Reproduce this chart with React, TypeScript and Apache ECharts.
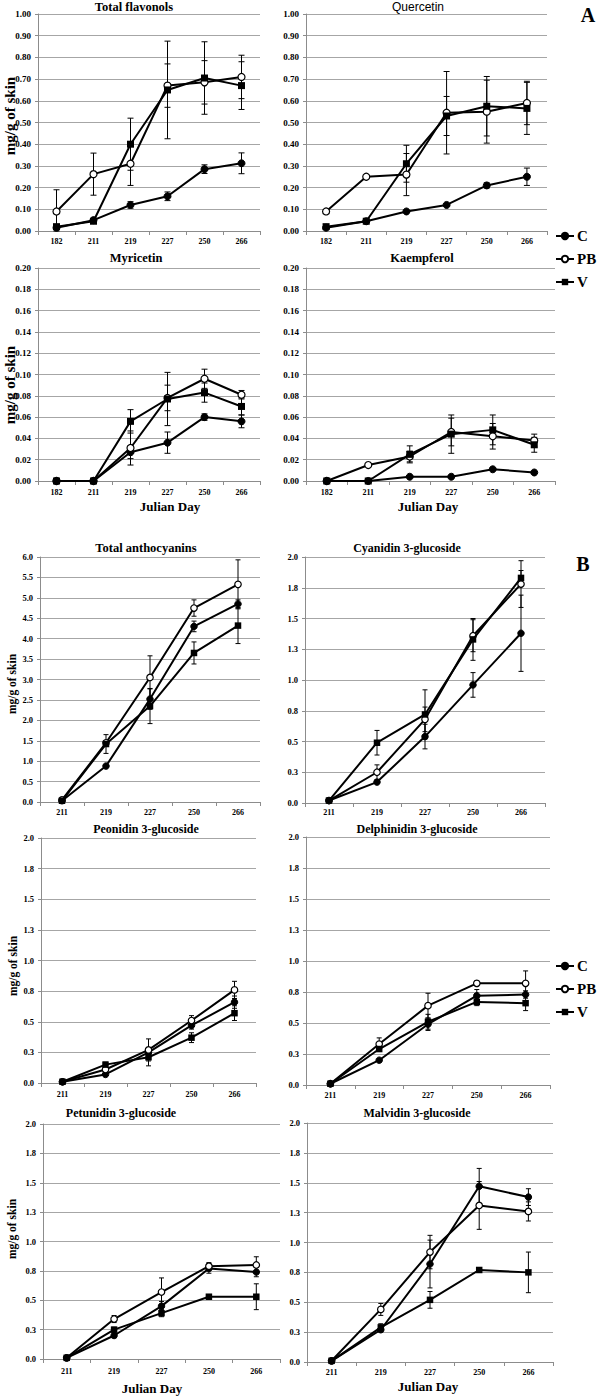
import React, { useEffect, useRef } from 'react';
import * as echarts from 'echarts';

// ---------- DATA ----------
const DAYS_A = ['182', '211', '219', '227', '250', '266'];
const DAYS_B = ['211', '219', '227', '250', '266'];
const SERIES_NAMES = ['C', 'PB', 'V'];
const B_TICK_LABELS = ['0.0', '0.3', '0.5', '0.8', '1.0', '1.3', '1.5', '1.8', '2.0'];

// Total flavonols
const FLAV_C = [0.015, 0.05, 0.12, 0.16, 0.285, 0.312];
const FLAV_C_ERR = [0, 0.008, 0.015, 0.02, 0.02, 0.048];
const FLAV_PB = [0.09, 0.262, 0.31, 0.67, 0.685, 0.71];
const FLAV_PB_ERR = [0.1, 0.097, 0.1, 0.1, 0.1, 0.1];
const FLAV_V = [0.02, 0.045, 0.4, 0.65, 0.705, 0.67];
const FLAV_V_ERR = [0.008, 0.008, 0.12, 0.225, 0.167, 0.11];

// Quercetin
const QUER_C = [0.015, 0.045, 0.09, 0.12, 0.21, 0.25];
const QUER_C_ERR = [0, 0, 0.005, 0.006, 0.012, 0.04];
const QUER_PB = [0.09, 0.25, 0.26, 0.545, 0.55, 0.59];
const QUER_PB_ERR = [0, 0, 0.097, 0.19, 0.145, 0.1];
const QUER_V = [0.02, 0.045, 0.31, 0.53, 0.575, 0.565];
const QUER_V_ERR = [0, 0, 0.085, 0.09, 0.137, 0.12];

// Myricetin
const MYR_C = [0, 0, 0.027, 0.036, 0.06, 0.056];
const MYR_C_ERR = [0, 0, 0.006, 0.01, 0.003, 0.006];
const MYR_PB = [0, 0, 0.031, 0.078, 0.096, 0.081];
const MYR_PB_ERR = [0, 0, 0.016, 0.012, 0.009, 0.004];
const MYR_V = [0, 0, 0.056, 0.077, 0.083, 0.07];
const MYR_V_ERR = [0, 0, 0.011, 0.025, 0.009, 0.008];

// Kaempferol
const KAEM_C = [0, 0, 0.004, 0.004, 0.011, 0.008];
const KAEM_C_ERR = [0, 0, 0, 0, 0.001, 0.001];
const KAEM_PB = [0, 0.015, 0.023, 0.046, 0.042, 0.038];
const KAEM_PB_ERR = [0, 0, 0.005, 0.013, 0.012, 0.006];
const KAEM_V = [0, 0, 0.025, 0.044, 0.048, 0.034];
const KAEM_V_ERR = [0, 0, 0.008, 0.018, 0.014, 0.007];

// Total anthocyanins
const ANTH_C = [0.03, 0.88, 2.52, 4.3, 4.85];
const ANTH_C_ERR = [0, 0.03, 0.25, 0.13, 0.1];
const ANTH_PB = [0.05, 1.45, 3.05, 4.75, 5.33];
const ANTH_PB_ERR = [0, 0.05, 0.53, 0.2, 0.6];
const ANTH_V = [0.03, 1.42, 2.35, 3.65, 4.32];
const ANTH_V_ERR = [0, 0.23, 0.43, 0.27, 0.44];

// Cyanidin 3-glucoside
const CYA_C = [0.02, 0.17, 0.54, 0.96, 1.38];
const CYA_C_ERR = [0, 0.01, 0.1, 0.1, 0.31];
const CYA_PB = [0.02, 0.25, 0.68, 1.36, 1.78];
const CYA_PB_ERR = [0, 0.06, 0.1, 0.13, 0.19];
const CYA_V = [0.02, 0.49, 0.72, 1.33, 1.83];
const CYA_V_ERR = [0, 0.1, 0.2, 0.17, 0.06];

// Peonidin 3-glucoside
const PEO_C = [0.01, 0.07, 0.25, 0.47, 0.66];
const PEO_C_ERR = [0, 0.01, 0.03, 0.03, 0.05];
const PEO_PB = [0.01, 0.11, 0.27, 0.51, 0.76];
const PEO_PB_ERR = [0, 0.02, 0.09, 0.04, 0.07];
const PEO_V = [0.01, 0.15, 0.21, 0.37, 0.57];
const PEO_V_ERR = [0, 0.02, 0.07, 0.04, 0.06];

// Delphinidin 3-glucoside
const DEL_C = [0.01, 0.2, 0.49, 0.72, 0.73];
const DEL_C_ERR = [0, 0.01, 0.05, 0.05, 0.03];
const DEL_PB = [0.01, 0.33, 0.64, 0.82, 0.82];
const DEL_PB_ERR = [0, 0.05, 0.1, 0.02, 0.1];
const DEL_V = [0.01, 0.29, 0.51, 0.67, 0.66];
const DEL_V_ERR = [0, 0.02, 0.06, 0.03, 0.06];

// Petunidin 3-glucoside
const PET_C = [0.01, 0.2, 0.45, 0.77, 0.74];
const PET_C_ERR = [0, 0.02, 0.04, 0.04, 0.04];
const PET_PB = [0.01, 0.34, 0.57, 0.79, 0.8];
const PET_PB_ERR = [0, 0.03, 0.12, 0.03, 0.07];
const PET_V = [0.01, 0.25, 0.39, 0.53, 0.53];
const PET_V_ERR = [0, 0.02, 0.03, 0.01, 0.11];

// Malvidin 3-glucoside
const MAL_C = [0.01, 0.27, 0.82, 1.47, 1.38];
const MAL_C_ERR = [0, 0.02, 0.2, 0.15, 0.07];
const MAL_PB = [0.01, 0.44, 0.92, 1.31, 1.26];
const MAL_PB_ERR = [0, 0.05, 0.14, 0.2, 0.08];
const MAL_V = [0.01, 0.29, 0.52, 0.77, 0.75];
const MAL_V_ERR = [0, 0.03, 0.07, 0.01, 0.17];

// ---------- LAYOUT ----------
const SERIF = "'Liberation Serif', 'Times New Roman', serif";
const SANS = "'Liberation Sans', Arial, sans-serif";

const fmt2 = (v: number) => v.toFixed(2);
const fmt1 = (v: number) => v.toFixed(1);
const fmtB = (v: number) => B_TICK_LABELS[Math.round(v / 0.25)] ?? '';

const PANELS = [
  { title: 'Total flavonols', tx: 134, ty: 7, tFont: SERIF, tBold: true, tSize: 12.5, cats: DAYS_A,
    data: [[FLAV_C, FLAV_C_ERR], [FLAV_PB, FLAV_PB_ERR], [FLAV_V, FLAV_V_ERR]],
    max: 1, interval: 0.1, fmt: fmt2, grid: { left: 38, top: 14, width: 222, height: 217 }, big: true, xm: 6 },
  { title: 'Quercetin', tx: 418, ty: 7, tFont: SANS, tBold: false, tSize: 12, cats: DAYS_A,
    data: [[QUER_C, QUER_C_ERR], [QUER_PB, QUER_PB_ERR], [QUER_V, QUER_V_ERR]],
    max: 1, interval: 0.1, fmt: fmt2, grid: { left: 306, top: 14, width: 241, height: 217 }, big: true, xm: 6 },
  { title: 'Myricetin', tx: 136, ty: 258, tFont: SERIF, tBold: true, tSize: 12.5, cats: DAYS_A,
    data: [[MYR_C, MYR_C_ERR], [MYR_PB, MYR_PB_ERR], [MYR_V, MYR_V_ERR]],
    max: 0.2, interval: 0.02, fmt: fmt2, grid: { left: 38, top: 268, width: 222, height: 213 }, big: true, xm: 7 },
  { title: 'Kaempferol', tx: 422, ty: 258, tFont: SERIF, tBold: true, tSize: 12.5, cats: DAYS_A,
    data: [[KAEM_C, KAEM_C_ERR], [KAEM_PB, KAEM_PB_ERR], [KAEM_V, KAEM_V_ERR]],
    max: 0.2, interval: 0.02, fmt: fmt2, grid: { left: 306, top: 268, width: 249, height: 213 }, big: true, xm: 7 },
  { title: 'Total anthocyanins', tx: 146, ty: 548, tFont: SERIF, tBold: true, tSize: 12.5, cats: DAYS_B,
    data: [[ANTH_C, ANTH_C_ERR], [ANTH_PB, ANTH_PB_ERR], [ANTH_V, ANTH_V_ERR]],
    max: 6, interval: 0.5, fmt: fmt1, grid: { left: 40, top: 557, width: 220, height: 245 }, big: false, xm: 6 },
  { title: 'Cyanidin 3-glucoside', tx: 407, ty: 548, tFont: SERIF, tBold: true, tSize: 12, cats: DAYS_B,
    data: [[CYA_C, CYA_C_ERR], [CYA_PB, CYA_PB_ERR], [CYA_V, CYA_V_ERR]],
    max: 2, interval: 0.25, fmt: fmtB, grid: { left: 305, top: 557, width: 240, height: 246 }, big: false, xm: 5 },
  { title: 'Peonidin 3-glucoside', tx: 146, ty: 829, tFont: SERIF, tBold: true, tSize: 12, cats: DAYS_B,
    data: [[PEO_C, PEO_C_ERR], [PEO_PB, PEO_PB_ERR], [PEO_V, PEO_V_ERR]],
    max: 2, interval: 0.25, fmt: fmtB, grid: { left: 41, top: 838, width: 215, height: 245 }, big: false, xm: 7 },
  { title: 'Delphinidin 3-glucoside', tx: 417, ty: 829, tFont: SERIF, tBold: true, tSize: 12, cats: DAYS_B,
    data: [[DEL_C, DEL_C_ERR], [DEL_PB, DEL_PB_ERR], [DEL_V, DEL_V_ERR]],
    max: 2, interval: 0.25, fmt: fmtB, grid: { left: 306, top: 837, width: 244, height: 248 }, big: false, xm: 6 },
  { title: 'Petunidin 3-glucoside', tx: 121, ty: 1113, tFont: SERIF, tBold: true, tSize: 12, cats: DAYS_B,
    data: [[PET_C, PET_C_ERR], [PET_PB, PET_PB_ERR], [PET_V, PET_V_ERR]],
    max: 2, interval: 0.25, fmt: fmtB, grid: { left: 43, top: 1124, width: 237, height: 235 }, big: false, xm: 8 },
  { title: 'Malvidin 3-glucoside', tx: 417, ty: 1113, tFont: SERIF, tBold: true, tSize: 12, cats: DAYS_B,
    data: [[MAL_C, MAL_C_ERR], [MAL_PB, MAL_PB_ERR], [MAL_V, MAL_V_ERR]],
    max: 2, interval: 0.25, fmt: fmtB, grid: { left: 307, top: 1123, width: 246, height: 239 }, big: false, xm: 6 },
];

const EXTRA_TEXTS = [
  { text: 'A', x: 588, y: 15, size: 20, rot: 0 },
  { text: 'B', x: 583, y: 564, size: 20, rot: 0 },
  { text: 'Julian Day', x: 170, y: 506, size: 13, rot: 0 },
  { text: 'Julian Day', x: 428, y: 506, size: 13, rot: 0 },
  { text: 'Julian Day', x: 152, y: 1388, size: 13, rot: 0 },
  { text: 'Julian Day', x: 428, y: 1386, size: 13, rot: 0 },
  { text: 'mg/g of skin', x: 10, y: 116, size: 15, rot: Math.PI / 2 },
  { text: 'mg/g of skin', x: 10, y: 385, size: 15, rot: Math.PI / 2 },
  { text: 'mg/g of skin', x: 12, y: 684, size: 11.5, rot: Math.PI / 2 },
  { text: 'mg/g of skin', x: 13, y: 966, size: 11.5, rot: Math.PI / 2 },
  { text: 'mg/g of skin', x: 12, y: 1229, size: 11.5, rot: Math.PI / 2 },
];

const STYLES = [
  { symbol: 'circle', itemStyle: { color: '#000', borderColor: '#000', borderWidth: 1 } },
  { symbol: 'circle', itemStyle: { color: '#fff', borderColor: '#000', borderWidth: 1.2 } },
  { symbol: 'rect', itemStyle: { color: '#000', borderColor: '#000', borderWidth: 0 } },
];

function errData(vals: number[], errs: number[]) {
  const out: number[][] = [];
  vals.forEach((v, i) => {
    if (errs[i] > 0) out.push([i, Math.max(0, v - errs[i]), v + errs[i]]);
  });
  return out;
}

function buildOption() {
  const grid: any[] = [];
  const xAxis: any[] = [];
  const yAxis: any[] = [];
  const series: any[] = [];
  const elements: any[] = [];

  PANELS.forEach((p, i) => {
    grid.push({ ...p.grid, containLabel: false, outerBoundsMode: 'none' });
    xAxis.push({
      type: 'category', gridIndex: i, data: p.cats, boundaryGap: true,
      axisLine: { show: true, lineStyle: { color: '#8c8c8c', width: 1 } },
      axisTick: { show: true, length: 4, lineStyle: { color: '#8c8c8c' } },
      axisLabel: { interval: 0, margin: p.xm, fontFamily: SERIF, fontWeight: 'bold', fontSize: 8, color: '#000' },
      splitLine: { show: false },
    });
    yAxis.push({
      type: 'value', gridIndex: i, min: 0, max: p.max, interval: p.interval,
      axisLine: { show: true, lineStyle: { color: '#8c8c8c', width: 1 } },
      axisTick: { show: true, length: 3, lineStyle: { color: '#8c8c8c' } },
      axisLabel: {
        formatter: p.fmt, margin: 7, showMinLabel: true, showMaxLabel: true,
        fontFamily: SERIF, fontWeight: 'bold', fontSize: p.big ? 9 : 8.5, color: '#000',
      },
      splitLine: { show: true, lineStyle: { color: '#a6a6a6', width: 1 } },
    });
    const cap = p.big ? 3 : 2.5;
    p.data.forEach(([vals, errs], k) => {
      series.push({
        type: 'custom', xAxisIndex: i, yAxisIndex: i, z: 2, silent: true,
        data: errData(vals as number[], errs as number[]),
        encode: { x: 0, y: [1, 2] },
        renderItem: (params: any, api: any) => {
          const x = api.value(0);
          const lo = api.coord([x, api.value(1)]);
          const hi = api.coord([x, api.value(2)]);
          const st = { stroke: '#000', lineWidth: 1 };
          return {
            type: 'group',
            children: [
              { type: 'line', shape: { x1: hi[0], y1: hi[1], x2: lo[0], y2: lo[1] }, style: st },
              { type: 'line', shape: { x1: hi[0] - cap, y1: hi[1], x2: hi[0] + cap, y2: hi[1] }, style: st },
              { type: 'line', shape: { x1: lo[0] - cap, y1: lo[1], x2: lo[0] + cap, y2: lo[1] }, style: st },
            ],
          };
        },
      });
      series.push({
        type: 'line', name: SERIES_NAMES[k], xAxisIndex: i, yAxisIndex: i, z: 3 + k,
        data: vals, symbol: STYLES[k].symbol, symbolSize: p.big ? 7 : 6.5, showSymbol: true,
        itemStyle: STYLES[k].itemStyle, lineStyle: { color: '#000', width: 2 },
        emphasis: { disabled: true }, silent: true,
      });
    });
    elements.push({
      type: 'text', x: p.tx, y: p.ty, silent: true,
      style: {
        text: p.title, fill: '#000', fontFamily: p.tFont, fontWeight: p.tBold ? 'bold' : 'normal',
        fontSize: p.tSize, textAlign: 'center', textVerticalAlign: 'middle', align: 'center', verticalAlign: 'middle',
      },
    });
  });

  EXTRA_TEXTS.forEach((t) => {
    elements.push({
      type: 'text', x: t.x, y: t.y, rotation: t.rot, silent: true,
      style: {
        text: t.text, fill: '#000', fontFamily: SERIF, fontWeight: 'bold', fontSize: t.size,
        textAlign: 'center', textVerticalAlign: 'middle', align: 'center', verticalAlign: 'middle',
      },
    });
  });

  const legendBase = {
    data: SERIES_NAMES, orient: 'vertical', left: 555, itemWidth: 18, itemHeight: 8, itemGap: 7,
    selectedMode: false, padding: 0,
    textStyle: { fontFamily: SERIF, fontWeight: 'bold', fontSize: 15, color: '#000', lineHeight: 16, padding: [0, 0, 0, -2] },
  };

  return {
    animation: false,
    backgroundColor: '#fff',
    grid, xAxis, yAxis, series,
    legend: [
      { ...legendBase, top: 228 },
      { ...legendBase, top: 958 },
    ],
    graphic: { elements },
  };
}

export default function App() {
  const ref = useRef<HTMLDivElement>(null);
  useEffect(() => {
    if (!ref.current) return;
    const chart = echarts.init(ref.current, null, { renderer: 'svg' });
    chart.setOption(buildOption() as any);
    return () => chart.dispose();
  }, []);
  return (
    <div
      ref={ref}
      style={{ position: 'absolute', left: 0, top: 0, width: 600, height: 1396, background: '#fff' }}
    />
  );
}
